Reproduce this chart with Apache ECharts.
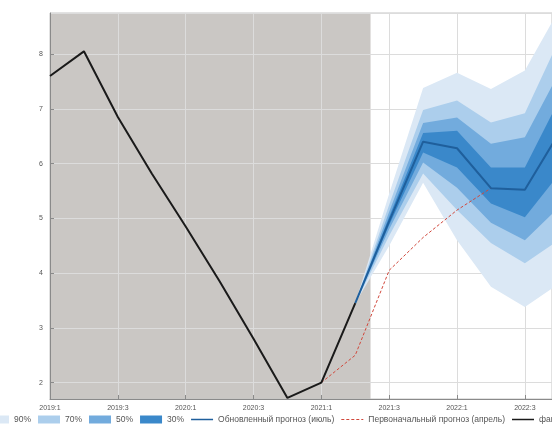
<!DOCTYPE html>
<html>
<head>
<meta charset="utf-8">
<script src="https://cdn.jsdelivr.net/npm/echarts@6/dist/echarts.min.js"></script>
<style>
  html, body { margin: 0; padding: 0; background: #fff; }
  #chart { width: 552px; height: 434px; }
</style>
</head>
<body>
<div id="chart"></div>
<script>
// Кварталы (индекс 0 = 2019:1)
var quarters = ['2019:1', '2019:2', '2019:3', '2019:4', '2020:1', '2020:2', '2020:3', '2020:4',
                '2021:1', '2021:2', '2021:3', '2021:4', '2022:1', '2022:2', '2022:3', '2022:4'];

// Факт, с 2019:1
var fact = [7.6, 8.05, 6.85, 5.82, 4.85, 3.85, 2.8, 1.72, 2.0, 3.45];
var factStart = 0;
var historyEnd = 9.45;   // конец серой зоны (в кварталах)

// Первоначальный прогноз (апрель), с 2021:1
var aprilForecast = [2.0, 2.5, 4.05, 4.65, 5.15, 5.55];
var aprilStart = 8;

// Обновленный прогноз (июль) и интервалы, с 2021:2
var julyStart = 9;
var julyForecast = [3.45, 4.95, 6.4, 6.28, 5.55, 5.52, 6.55];
var band90Low  = [3.45, 4.5, 5.65, 4.6, 3.75, 3.38, 3.8];
var band90High = [3.45, 5.45, 7.38, 7.66, 7.36, 7.7, 8.8];
var band70Low  = [3.45, 4.68, 5.82, 5.15, 4.55, 4.18, 4.6];
var band70High = [3.45, 5.25, 6.98, 7.15, 6.75, 6.92, 8.25];
var band50Low  = [3.45, 4.8, 6.02, 5.56, 4.92, 4.6, 5.2];
var band50High = [3.45, 5.12, 6.74, 6.84, 6.36, 6.48, 7.65];
var band30Low  = [3.45, 4.88, 6.2, 5.93, 5.27, 5.02, 5.8];
var band30High = [3.45, 5.03, 6.56, 6.6, 5.93, 5.93, 7.15];

var bandNames  = ['90%', '70%', '50%', '30%'];
var bandColors = ['#dbe8f5', '#acceec', '#72abdd', '#3a88ca'];

var nameJuly  = 'Обновленный прогноз (июль)';
var nameApril = 'Первоначальный прогноз (апрель)';
var nameFact  = 'факт';

function pairs(values, start) {
	return values.map(function (v, i) { return [start + i, v]; });
}

// Полоса веера: один многоугольник через api.coord
function bandSeries(name, color, low, high) {
	return {
		name: name, type: 'custom', clip: true, silent: true,
		itemStyle: { color: color },
		encode: { x: 0, y: [1, 2] },
		data: low.map(function (l, i) { return [julyStart + i, l, high[i]]; }),
		renderItem: function (params, api) {
			if (params.dataIndexInside !== 0) return;
			var n = params.dataInsideLength, pts = [], i;
			for (i = 0; i < n; i++) pts.push(api.coord([api.value(0, i), api.value(2, i)]));
			for (i = n - 1; i >= 0; i--) pts.push(api.coord([api.value(0, i), api.value(1, i)]));
			return { type: 'polygon', shape: { points: pts }, style: { fill: color } };
		}
	};
}

var chart = echarts.init(document.getElementById('chart'), null, { renderer: 'canvas' });

var series = [
	// серая зона (под сеткой)
	{
		type: 'line', z: -1, symbol: 'none', silent: true,
		lineStyle: { opacity: 0 },
		data: pairs(fact, factStart),
		markArea: {
			silent: true, z: -1,
			itemStyle: { color: '#cac7c4' },
			data: [[{ xAxis: factStart }, { xAxis: historyEnd }]]
		}
	}
];
series.push(bandSeries(bandNames[0], bandColors[0], band90Low, band90High));
series.push(bandSeries(bandNames[1], bandColors[1], band70Low, band70High));
series.push(bandSeries(bandNames[2], bandColors[2], band50Low, band50High));
series.push(bandSeries(bandNames[3], bandColors[3], band30Low, band30High));
series.push(
	{
		name: nameApril, type: 'line', symbol: 'none', color: '#d1473b',
		lineStyle: { width: 1, type: [3, 2], color: '#d1473b' },
		data: pairs(aprilForecast, aprilStart)
	},
	{
		name: nameJuly, type: 'line', symbol: 'none', color: '#1f5f9c',
		lineStyle: { width: 2, color: '#1f5f9c' },
		data: pairs(julyForecast, julyStart)
	},
	{
		name: nameFact, type: 'line', symbol: 'none', color: '#1a1a1a',
		lineStyle: { width: 2, color: '#1a1a1a' },
		data: pairs(fact, factStart)
	}
);

var solidIcon  = 'path://M0,0H22V1.5H0Z';
var dashedIcon = 'path://M0,0h3v1.2h-3zM5,0h3v1.2h-3zM10,0h3v1.2h-3zM15,0h3v1.2h-3zM20,0h2v1.2h-2z';

chart.setOption({
	backgroundColor: '#fff',
	animation: false,
	grid: {
		left: 50, top: 13, bottom: 35, right: 0,
		show: true, borderColor: '#c4c4c4', borderWidth: 1
	},
	xAxis: {
		// правый край картинки обрезает ось примерно на 2022:4
		type: 'value', min: 0, max: 14.8, interval: 2,
		axisLine: { lineStyle: { color: '#8a8a8a' } },
		axisTick: { inside: true, length: 4, lineStyle: { color: '#8a8a8a' } },
		splitLine: { show: true, lineStyle: { color: '#dcdcdc' } },
		axisLabel: {
			fontSize: 7, color: '#555', margin: 6, fontFamily: 'Liberation Sans',
			showMaxLabel: false,
			formatter: function (v) { return v % 2 === 0 ? quarters[v] : ''; }
		}
	},
	yAxis: {
		type: 'value', min: 1.7, max: 8.75, splitNumber: 7,
		axisLine: { show: true, lineStyle: { color: '#8a8a8a' } },
		axisTick: { show: true, inside: true, length: 4, lineStyle: { color: '#8a8a8a' } },
		splitLine: { show: true, lineStyle: { color: '#dcdcdc' } },
		axisLabel: {
			fontSize: 7, color: '#555', margin: 7, fontFamily: 'Liberation Sans',
			showMinLabel: false, showMaxLabel: false,
			formatter: function (v) { return Math.abs(v - Math.round(v)) < 1e-6 ? String(Math.round(v)) : ''; }
		}
	},
	legend: {
		left: -18, bottom: 5, width: 900,
		itemWidth: 22, itemHeight: 8, itemGap: 7,
		textStyle: { fontSize: 8.5, color: '#555', fontFamily: 'Liberation Sans' },
		data: [
			{ name: bandNames[0], icon: 'rect', itemStyle: { color: bandColors[0] } },
			{ name: bandNames[1], icon: 'rect', itemStyle: { color: bandColors[1] } },
			{ name: bandNames[2], icon: 'rect', itemStyle: { color: bandColors[2] } },
			{ name: bandNames[3], icon: 'rect', itemStyle: { color: bandColors[3] } },
			{ name: nameJuly, icon: solidIcon, itemStyle: { color: '#1f5f9c' } },
			{ name: nameApril, icon: dashedIcon, itemStyle: { color: '#d1473b' } },
			{ name: nameFact, icon: solidIcon, itemStyle: { color: '#1a1a1a' } }
		]
	},
	series: series
});
</script>
</body>
</html>
